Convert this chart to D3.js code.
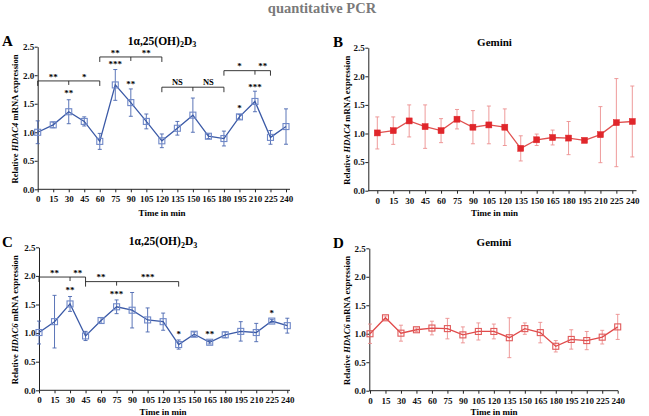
<!DOCTYPE html>
<html><head><meta charset="utf-8">
<script src="https://cdn.jsdelivr.net/npm/d3@7"></script>
<style>
body{margin:0;background:#fff;}
svg{display:block;}
svg text{font-family:"Liberation Serif","Times New Roman",serif !important;font-weight:bold;}
</style></head>
<body><svg id="c" width="649" height="416"></svg>
<script>
const times = [0,15,30,45,60,75,90,105,120,135,150,165,180,195,210,225,240];
const tickVals = [0,0.5,1.0,1.5,2.0,2.5];

const hdac4VD    = [1.00,1.13,1.36,1.19,0.84,1.83,1.52,1.19,0.85,1.07,1.30,0.93,0.89,1.27,1.54,0.91,1.10];
const hdac4VDErr = [0.20,0.05,0.21,0.08,0.14,0.27,0.24,0.13,0.12,0.12,0.30,0.04,0.13,0.04,0.18,0.12,0.31];
const hdac4Gem    = [1.01,1.05,1.22,1.12,1.05,1.25,1.11,1.15,1.11,0.74,0.89,0.93,0.92,0.88,0.98,1.19,1.21];
const hdac4GemErr = [0.28,0.24,0.28,0.38,0.21,0.17,0.29,0.33,0.32,0.22,0.10,0.13,0.29,0.03,0.49,0.77,0.62];
const hdac6VD    = [1.01,1.20,1.51,0.95,1.22,1.46,1.40,1.23,1.20,0.80,0.98,0.84,0.97,1.03,1.01,1.21,1.13];
const hdac6VDErr = [0.20,0.46,0.13,0.08,0.05,0.12,0.31,0.21,0.15,0.08,0.04,0.03,0.05,0.17,0.16,0.03,0.13];
const hdac6Gem    = [1.00,1.28,1.01,1.07,1.10,1.09,0.98,1.04,1.04,0.93,1.09,1.02,0.78,0.90,0.88,0.94,1.12];
const hdac6GemErr = [0.17,0.03,0.14,0.03,0.12,0.18,0.14,0.15,0.13,0.35,0.10,0.18,0.10,0.17,0.16,0.12,0.22];

// [start, end, middle, level, left label, right label]
const bracketsA = [[0,60,30,1.90,"**","*"],[60,120,90,2.32,"**","**"],[120,180,150,1.79,"NS","NS"],[180,225,210,2.08,"*","**"]];
const bracketsC = [[0,45,30,1.98,"**","**"],[45,135,75,1.90,"**","***"]];
// [time, label, level]
const starsA = [[30,"**",1.71],[75,"***",2.21],[90,"**",1.87],[195,"*",1.44],[210,"***",1.81]];
const starsC = [[30,"**",1.78],[75,"***",1.70],[135,"*",1.00],[165,"**",1.00],[225,"*",1.38]];

const FONT = "Liberation Serif";
const svg = d3.select("#c");

svg.append("text").attr("x",322).attr("y",13).attr("text-anchor","middle").attr("font-family",FONT)
  .attr("font-size",14.5).attr("fill","#7a7a7a").text("quantitative PCR");

const panels = [
  {letter:"A", gene:"HDAC4", treat:"vd", mean:hdac4VD, err:hdac4VDErr, br:bracketsA, st:starsA,
   ax:37.7, x0:37.7, x1:286, axEnd:290, yb:189.3, yt:46.7, cx:162, ylx:15, lx:2, tly:216,
   line:"#3a59a6", errc:"#4a67b0", mk:"open", mkc:"#6f88c8"},
  {letter:"B", gene:"HDAC4", treat:"gem", mean:hdac4Gem, err:hdac4GemErr, br:[], st:[],
   ax:368.3, x0:377.3, x1:632.3, axEnd:636.5, yb:190.7, yt:47.7, cx:494.5, ylx:346.7, lx:333, tly:216,
   line:"#e0504f", errc:"#ec8e8e", mk:"filled", mkc:"#e0262b"},
  {letter:"C", gene:"HDAC6", treat:"vd", mean:hdac6VD, err:hdac6VDErr, br:bracketsC, st:starsC,
   ax:39, x0:39, x1:287.3, axEnd:290, yb:390.3, yt:247.3, cx:163, ylx:15, lx:2, tly:414.5,
   line:"#3a59a6", errc:"#4a67b0", mk:"open", mkc:"#6f88c8"},
  {letter:"D", gene:"HDAC6", treat:"gem", mean:hdac6Gem, err:hdac6GemErr, br:[], st:[],
   ax:369.3, x0:370, x1:617.7, axEnd:618, yb:390.7, yt:248.3, cx:494, ylx:346.7, lx:333, tly:414.5,
   line:"#e04a4a", errc:"#ec8e8e", mk:"open", mkc:"#e05a5a"}
];

panels.forEach(p => {
  const g = svg.append("g").attr("font-family",FONT).attr("font-weight","bold");
  const x = d3.scaleLinear().domain([0,240]).range([p.x0,p.x1]);
  const y = d3.scaleLinear().domain([0,2.5]).range([p.yb,p.yt]);

  // y axis
  const ya = g.append("g").attr("transform",`translate(${p.ax},0)`)
    .call(d3.axisLeft(y).tickValues(tickVals).tickFormat(d3.format(".1f")).tickSize(3).tickSizeOuter(0));
  ya.attr("font-family",FONT);
  ya.selectAll("text").attr("font-size",9).attr("fill","#111").attr("x",-3.5);
  ya.selectAll("line,path").attr("stroke","#222").attr("stroke-width",1);

  // x axis
  const xa = g.append("g").attr("transform",`translate(0,${p.yb})`)
    .call(d3.axisBottom(x).tickValues(times).tickSize(3).tickSizeOuter(0));
  xa.attr("font-family",FONT);
  xa.select(".domain").remove();
  xa.selectAll("text").attr("font-size",9).attr("fill","#111").attr("y",6.5);
  xa.selectAll("line").attr("stroke","#222");
  g.append("line").attr("x1",p.ax).attr("x2",p.axEnd).attr("y1",p.yb).attr("y2",p.yb).attr("stroke","#222").attr("stroke-width",1);

  // labels
  g.append("text").attr("x",p.cx).attr("y",p.tly).attr("text-anchor","middle").attr("font-size",9).text("Time in min");
  const yl = g.append("text").attr("transform",`translate(${p.ylx},${(p.yb+p.yt)/2+1}) rotate(-90)`)
    .attr("text-anchor","middle").attr("font-size",8.6).attr("dy","0.35em");
  yl.append("tspan").text("Relative ");
  yl.append("tspan").attr("font-style","italic").text(p.gene);
  yl.append("tspan").text(" mRNA expression");

  g.append("text").attr("x",p.lx).attr("y",p.yt-0.5).attr("font-size",15).text(p.letter);

  const tt = g.append("text").attr("x",p.cx).attr("y",p.yt-2).attr("text-anchor","middle").attr("font-size",p.treat==="vd"?11.5:11);
  if (p.treat==="vd") {
    tt.append("tspan").text("1α,25(OH)");
    tt.append("tspan").attr("font-size",8).attr("dy",2.5).text("2");
    tt.append("tspan").attr("dy",-2.5).text("D");
    tt.append("tspan").attr("font-size",8).attr("dy",2.5).text("3");
  } else {
    tt.text("Gemini");
  }

  const data = times.map((t,i)=>({t, m:p.mean[i], e:p.err[i]}));

  // error bars
  const eb = g.append("g").attr("stroke",p.errc).attr("stroke-width",0.9);
  data.forEach(d => {
    eb.append("line").attr("x1",x(d.t)).attr("x2",x(d.t)).attr("y1",y(d.m-d.e)).attr("y2",y(d.m+d.e));
    [d.m-d.e,d.m+d.e].forEach(v => eb.append("line").attr("x1",x(d.t)-2).attr("x2",x(d.t)+2).attr("y1",y(v)).attr("y2",y(v)));
  });

  // line
  g.append("path").datum(data).attr("fill","none").attr("stroke",p.line).attr("stroke-width",1.3)
    .attr("d",d3.line().x(d=>x(d.t)).y(d=>y(d.m)));

  // markers
  const s = 6;
  g.append("g").selectAll("rect").data(data).join("rect")
    .attr("x",d=>x(d.t)-s/2).attr("y",d=>y(d.m)-s/2).attr("width",s).attr("height",s)
    .attr("fill",p.mk==="filled"?p.mkc:"none")
    .attr("stroke",p.mkc).attr("stroke-width",p.mk==="filled"?0.5:1.1);

  // brackets
  p.br.forEach(b => {
    const [a,e,m,lv,l1,l2] = b;
    const yy = y(lv);
    g.append("path").attr("fill","none").attr("stroke","#222").attr("stroke-width",0.9)
      .attr("d",`M${x(a)},${yy+5}V${yy}H${x(e)}V${yy+5}M${x(m)},${yy}V${yy+4}`);
    [[ (a+m)/2, l1 ], [ (m+e)/2, l2 ]].forEach(([tx,lab]) => {
      g.append("text").attr("x",x(tx)).attr("y", lab==="NS" ? yy-2.5 : yy-1.2)
        .attr("text-anchor","middle").attr("font-size",lab==="NS"?8.5:9).text(lab);
    });
  });
  p.st.forEach(sd => {
    const [t,lab,lv] = sd;
    g.append("text").attr("x",x(t)).attr("y",y(lv)+4.2).attr("text-anchor","middle").attr("font-size",9).text(lab);
  });
});
</script></body></html>
